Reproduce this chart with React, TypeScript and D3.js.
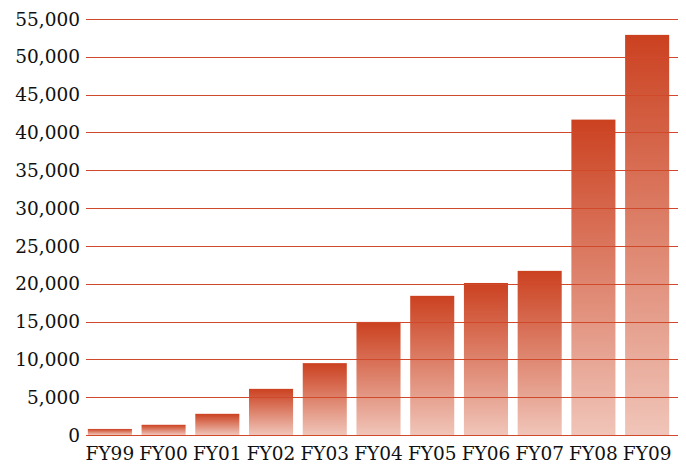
import React from "react";
import * as d3 from "d3";

const categories = ["FY99", "FY00", "FY01", "FY02", "FY03", "FY04", "FY05", "FY06", "FY07", "FY08", "FY09"];
const values = [800, 1350, 2800, 6100, 9500, 14950, 18400, 20100, 21700, 41700, 52900];
const yTicks = [0, 5000, 10000, 15000, 20000, 25000, 30000, 35000, 40000, 45000, 50000, 55000];

const W = 686;
const H = 466;
const FONT = "'DejaVu Serif', serif";

export default function App() {
  const x = d3.scaleBand<string>().domain(categories).range([83, 674]).paddingInner(0.18).paddingOuter(0.09);
  const y = d3.scaleLinear().domain([0, 55000]).range([435, 19]);
  const fmt = d3.format(",");
  return (
    <svg width={W} height={H} style={{ position: "absolute", left: 0, top: 0 }}>
      <defs>
        <linearGradient id="barGrad" x1="0" y1="0" x2="0" y2="1">
          <stop offset="0%" stopColor="#cb4120" />
          <stop offset="100%" stopColor="#f0c5b9" />
        </linearGradient>
      </defs>
      <rect width={W} height={H} fill="#fff" />
      {categories.map((c, i) => (
        <rect
          key={c}
          x={x(c)}
          y={y(values[i])}
          width={x.bandwidth()}
          height={y(0) - y(values[i])}
          fill="url(#barGrad)"
        />
      ))}
      {yTicks.map((t) => (
        <g key={t}>
          <line x1={86} x2={678} y1={Math.round(y(t)) + 0.5} y2={Math.round(y(t)) + 0.5} stroke="#d0492a" strokeWidth={1} />
          <text x={80} y={y(t)} dy="0.36em" textAnchor="end" fontFamily={FONT} fontSize={18.5} fill="#111">
            {fmt(t)}
          </text>
        </g>
      ))}
      {categories.map((c) => (
        <text key={c} x={(x(c) as number) + x.bandwidth() / 2} y={460} textAnchor="middle" fontFamily={FONT} fontSize={18.5} fill="#111">
          {c}
        </text>
      ))}
    </svg>
  );
}
